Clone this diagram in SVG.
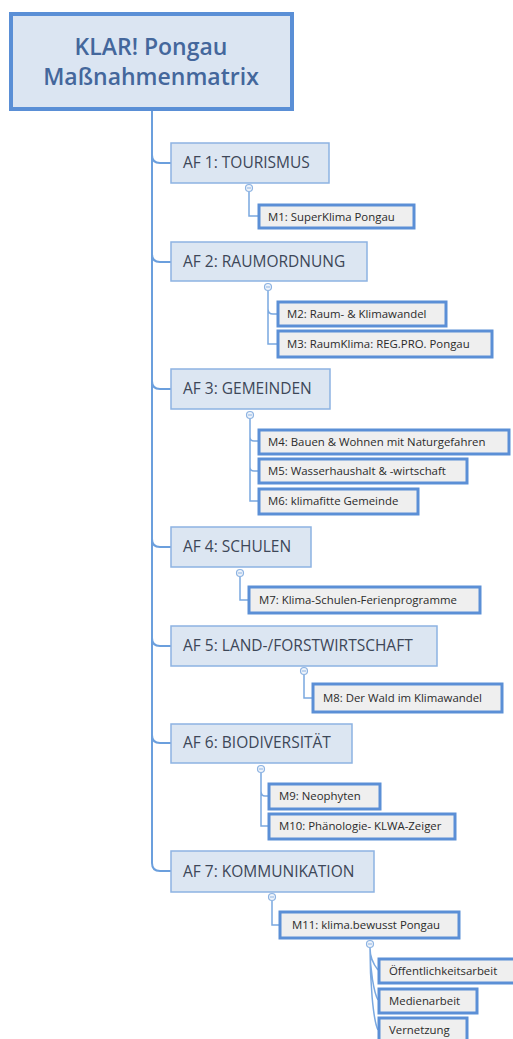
<svg xmlns="http://www.w3.org/2000/svg" width="513" height="1039" viewBox="0 0 513 1039">
<style>
.root{fill:#dbe5f2;stroke:#5a8fd6;stroke-width:4}
.af{fill:#dce6f2;stroke:#8db3e2;stroke-width:1.5}
.m{fill:#efefef;stroke:#5b8fd6;stroke-width:3}
.ln{fill:none;stroke:#6b9fdd;stroke-width:2}
.ln2{fill:none;stroke:#7aa8e0;stroke-width:1.5}
.cc{fill:#eef3fa;stroke:#8db3e2;stroke-width:1.2}
.cm{stroke:#8db3e2;stroke-width:1}
.tr{font-family:"Open Sans","Liberation Sans",sans-serif;font-size:23px;font-weight:600;fill:#44679c;text-anchor:middle}
.ta{font-family:"Open Sans","Liberation Sans",sans-serif;font-size:15.5px;fill:#3d4758}
.tm{font-family:"Open Sans","Liberation Sans",sans-serif;font-size:11.4px;fill:#2b2b2b}
</style>
<g id="connectors">
<path class="ln" d="M152,111 V863 Q152,871 160,871 H171"/>
<path class="ln" d="M152,155 Q152,163 160,163 H171"/>
<path class="ln" d="M152,254 Q152,262 160,262 H171"/>
<path class="ln" d="M152,381 Q152,389 160,389 H171"/>
<path class="ln" d="M152,539 Q152,547 160,547 H171"/>
<path class="ln" d="M152,638 Q152,646 160,646 H171"/>
<path class="ln" d="M152,735 Q152,743 160,743 H171"/>
<path class="ln2" d="M249,192 V216 H258"/>
<path class="ln2" d="M268,291 V344 H277 M268,309 Q268,314 273,314 H277"/>
<path class="ln2" d="M250,419 V501 H258 M250,437 Q250,441 254,441 H258 M250,467 Q250,471 254,471 H258"/>
<path class="ln2" d="M240,577 V600 H248"/>
<path class="ln2" d="M304,675 V698 H312"/>
<path class="ln2" d="M261,773 V826 H268 M261,791 Q261,796 265,796 H268"/>
<path class="ln2" d="M272,901 V925 H279"/>
<path class="ln2" d="M370,948 C370,958 374,965 378,970 M370,948 C370,970 374,993 378,1000 M370,948 C370,980 373,1020 378,1030"/>
</g>
<g id="root">
<rect class="root" x="11" y="14" width="281" height="95"/>
<text class="tr" x="151" y="55">KLAR! Pongau</text>
<text class="tr" x="151" y="85">Maßnahmenmatrix</text>
</g>
<g id="af1"><rect class="af" x="171" y="143" width="158" height="40"/><text class="ta" x="183" y="168">AF 1: TOURISMUS</text></g>
<g id="m1"><rect class="m" x="259" y="205" width="155" height="23"/><text class="tm" x="268" y="221">M1: SuperKlima Pongau</text></g>
<g id="af2"><rect class="af" x="171" y="242" width="196" height="39"/><text class="ta" x="183" y="267">AF 2: RAUMORDNUNG</text></g>
<g id="m2"><rect class="m" x="278" y="302" width="168" height="24"/><text class="tm" x="287" y="318">M2: Raum- &amp; Klimawandel</text></g>
<g id="m3"><rect class="m" x="278" y="331" width="214" height="26"/><text class="tm" x="287" y="348">M3: RaumKlima: REG.PRO. Pongau</text></g>
<g id="af3"><rect class="af" x="171" y="369" width="159" height="40"/><text class="ta" x="183" y="394">AF 3: GEMEINDEN</text></g>
<g id="m4"><rect class="m" x="259" y="430" width="250" height="24"/><text class="tm" x="268" y="446">M4: Bauen &amp; Wohnen mit Naturgefahren</text></g>
<g id="m5"><rect class="m" x="259" y="459" width="208" height="24"/><text class="tm" x="268" y="475">M5: Wasserhaushalt &amp; -wirtschaft</text></g>
<g id="m6"><rect class="m" x="259" y="489" width="159" height="25"/><text class="tm" x="268" y="505">M6: klimafitte Gemeinde</text></g>
<g id="af4"><rect class="af" x="171" y="527" width="140" height="40"/><text class="ta" x="183" y="552">AF 4: SCHULEN</text></g>
<g id="m7"><rect class="m" x="249" y="587" width="231" height="26"/><text class="tm" x="259" y="604">M7: Klima-Schulen-Ferienprogramme</text></g>
<g id="af5"><rect class="af" x="171" y="626" width="266" height="40"/><text class="ta" x="183" y="651">AF 5: LAND-/FORSTWIRTSCHAFT</text></g>
<g id="m8"><rect class="m" x="313" y="684" width="189" height="28"/><text class="tm" x="323" y="702">M8: Der Wald im Klimawandel</text></g>
<g id="af6"><rect class="af" x="171" y="724" width="181" height="39"/><text class="ta" x="183" y="748">AF 6: BIODIVERSITÄT</text></g>
<g id="m9"><rect class="m" x="269" y="784" width="111" height="25"/><text class="tm" x="279" y="800">M9: Neophyten</text></g>
<g id="m10"><rect class="m" x="269" y="814" width="186" height="25"/><text class="tm" x="279" y="830">M10: Phänologie- KLWA-Zeiger</text></g>
<g id="af7"><rect class="af" x="171" y="851" width="203" height="41"/><text class="ta" x="183" y="877">AF 7: KOMMUNIKATION</text></g>
<g id="m11"><rect class="m" x="280" y="912" width="179" height="26"/><text class="tm" x="292" y="929">M11: klima.bewusst Pongau</text></g>
<g id="c1"><rect class="m" x="379" y="959" width="136" height="24"/><text class="tm" x="389" y="975">Öffentlichkeitsarbeit</text></g>
<g id="c2"><rect class="m" x="379" y="989" width="98" height="24"/><text class="tm" x="389" y="1005">Medienarbeit</text></g>
<g id="c3"><rect class="m" x="379" y="1018" width="88" height="24"/><text class="tm" x="389" y="1034">Vernetzung</text></g>
<g id="collapse">
<circle class="cc" cx="249" cy="188" r="3.5"/><line class="cm" x1="247" y1="188" x2="251" y2="188"/>
<circle class="cc" cx="268" cy="287" r="3.5"/><line class="cm" x1="266" y1="287" x2="270" y2="287"/>
<circle class="cc" cx="250" cy="415" r="3.5"/><line class="cm" x1="248" y1="415" x2="252" y2="415"/>
<circle class="cc" cx="240" cy="573" r="3.5"/><line class="cm" x1="238" y1="573" x2="242" y2="573"/>
<circle class="cc" cx="304" cy="671" r="3.5"/><line class="cm" x1="302" y1="671" x2="306" y2="671"/>
<circle class="cc" cx="261" cy="769" r="3.5"/><line class="cm" x1="259" y1="769" x2="263" y2="769"/>
<circle class="cc" cx="272" cy="897" r="3.5"/><line class="cm" x1="270" y1="897" x2="274" y2="897"/>
<circle class="cc" cx="370" cy="944" r="3.5"/><line class="cm" x1="368" y1="944" x2="372" y2="944"/>
</g>
</svg>
